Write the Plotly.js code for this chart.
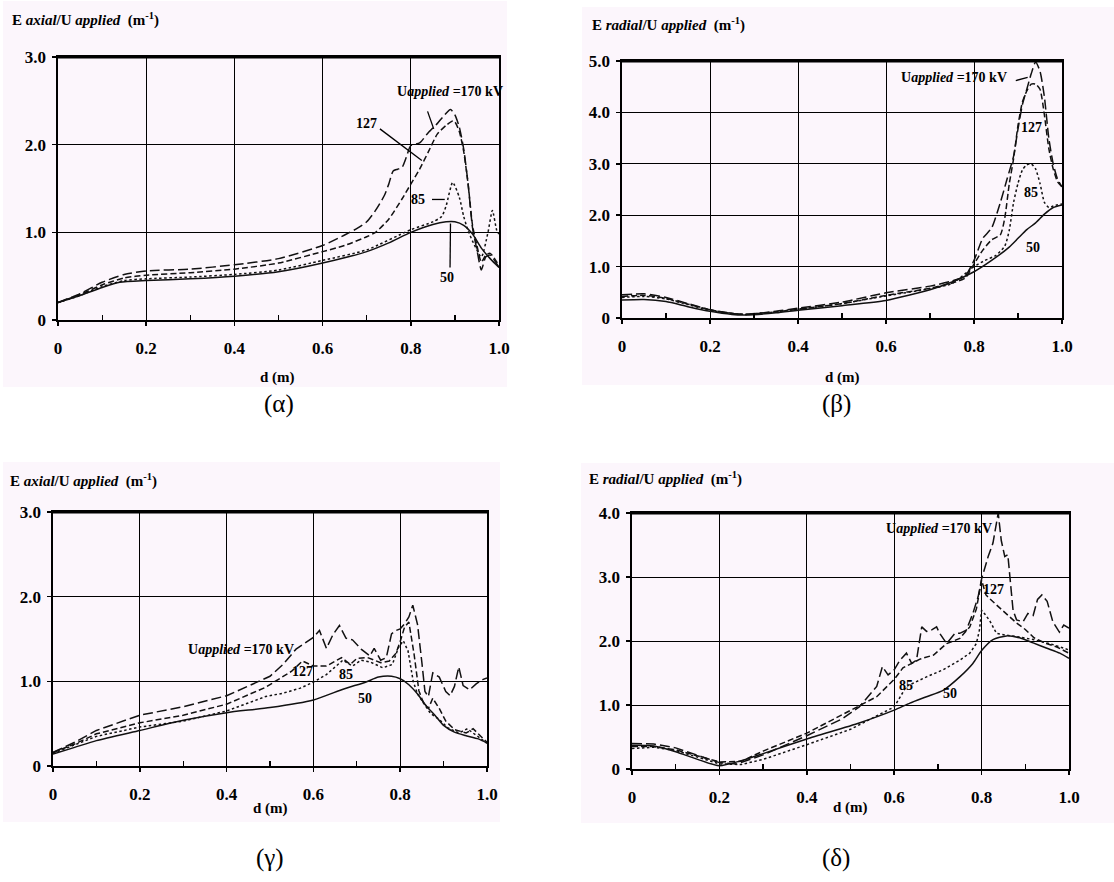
<!DOCTYPE html>
<html><head><meta charset="utf-8">
<script src="https://cdn.plot.ly/plotly-3.0.1.min.js"></script>
<style>html,body{margin:0;padding:0;background:#fff;} #chart{width:1114px;height:882px;}</style>
</head><body><div id="chart"></div>
<script>
// ---------- tick labels ----------
const xTickVals = [0, 0.2, 0.4, 0.6, 0.8, 1.0];
const xTickText = ['0', '0.2', '0.4', '0.6', '0.8', '1.0'];
const xMinorVals = [0.1, 0.3, 0.5, 0.7, 0.9];
const yTickVals3 = [0, 1, 2, 3];
const yTickText3 = ['0', '1.0', '2.0', '3.0'];
const yTickVals4 = [0, 1, 2, 3, 4];
const yTickText4 = ['0', '1.0', '2.0', '3.0', '4.0'];
const yTickVals5 = [0, 1, 2, 3, 4, 5];
const yTickText5 = ['0', '1.0', '2.0', '3.0', '4.0', '5.0'];
const seriesNames = ['170 kV', '127 kV', '85 kV', '50 kV'];

// ---------- (α) axial field ----------
const aD170 = [0, 0.05, 0.1, 0.15, 0.2, 0.3, 0.4, 0.5, 0.6, 0.65, 0.68, 0.7, 0.72, 0.74, 0.75, 0.76, 0.77, 0.78, 0.79, 0.8, 0.82, 0.84, 0.86, 0.875, 0.89, 0.9, 0.91, 0.92, 0.93, 0.94, 0.95, 0.96, 0.97, 0.98, 1.0];
const aV170 = [0.20, 0.30, 0.43, 0.52, 0.56, 0.58, 0.63, 0.70, 0.85, 0.97, 1.05, 1.12, 1.25, 1.42, 1.55, 1.70, 1.72, 1.74, 1.86, 1.99, 2.02, 2.14, 2.24, 2.33, 2.40, 2.34, 2.20, 1.95, 1.55, 1.05, 0.80, 0.57, 0.72, 0.74, 0.60];
const aD127 = [0, 0.05, 0.1, 0.15, 0.2, 0.3, 0.4, 0.5, 0.6, 0.65, 0.7, 0.72, 0.75, 0.78, 0.8, 0.82, 0.84, 0.86, 0.88, 0.895, 0.9, 0.91, 0.92, 0.93, 0.94, 0.95, 0.96, 0.97, 0.98, 1.0];
const aV127 = [0.20, 0.29, 0.40, 0.48, 0.51, 0.54, 0.58, 0.65, 0.78, 0.85, 0.95, 1.0, 1.15, 1.38, 1.55, 1.72, 1.92, 2.12, 2.22, 2.27, 2.26, 2.15, 1.92, 1.55, 1.08, 0.85, 0.66, 0.74, 0.76, 0.62];
const aD85 = [0, 0.05, 0.1, 0.15, 0.2, 0.3, 0.4, 0.5, 0.6, 0.7, 0.8, 0.85, 0.87, 0.88, 0.895, 0.91, 0.92, 0.93, 0.94, 0.96, 0.975, 0.985, 0.995, 1.0];
const aV85 = [0.20, 0.28, 0.38, 0.45, 0.47, 0.49, 0.52, 0.57, 0.68, 0.80, 1.03, 1.12, 1.18, 1.30, 1.57, 1.40, 1.18, 1.02, 0.90, 0.72, 1.00, 1.25, 1.02, 0.98];
const aD50 = [0, 0.05, 0.1, 0.14, 0.2, 0.3, 0.4, 0.5, 0.6, 0.7, 0.75, 0.8, 0.85, 0.88, 0.9, 0.92, 0.94, 0.96, 0.98, 1.0];
const aV50 = [0.20, 0.28, 0.37, 0.43, 0.45, 0.47, 0.50, 0.55, 0.65, 0.78, 0.88, 1.0, 1.09, 1.12, 1.12, 1.08, 0.98, 0.82, 0.70, 0.60];

// ---------- (β) radial field ----------
const bD170 = [0, 0.05, 0.1, 0.15, 0.2, 0.25, 0.28, 0.35, 0.4, 0.5, 0.6, 0.7, 0.75, 0.78, 0.8, 0.82, 0.84, 0.86, 0.875, 0.89, 0.9, 0.91, 0.92, 0.93, 0.94, 0.95, 0.96, 0.97, 0.98, 0.99, 1.0];
const bV170 = [0.45, 0.47, 0.40, 0.28, 0.16, 0.09, 0.07, 0.13, 0.19, 0.31, 0.49, 0.62, 0.72, 0.82, 1.12, 1.55, 1.75, 2.25, 2.70, 3.15, 3.68, 4.15, 4.45, 4.75, 4.98, 4.80, 4.30, 3.50, 3.00, 2.70, 2.55];
const bD127 = [0, 0.05, 0.1, 0.15, 0.2, 0.25, 0.28, 0.35, 0.4, 0.5, 0.6, 0.7, 0.75, 0.78, 0.8, 0.82, 0.84, 0.86, 0.87, 0.88, 0.89, 0.9, 0.91, 0.92, 0.93, 0.94, 0.95, 0.96, 0.97, 0.98, 0.99, 1.0];
const bV127 = [0.42, 0.44, 0.38, 0.27, 0.16, 0.09, 0.07, 0.12, 0.17, 0.28, 0.44, 0.58, 0.68, 0.78, 1.05, 1.32, 1.52, 1.62, 1.95, 2.60, 3.10, 3.75, 4.20, 4.42, 4.55, 4.55, 4.45, 3.95, 3.30, 2.90, 2.65, 2.55];
const bD85 = [0, 0.05, 0.1, 0.15, 0.2, 0.25, 0.28, 0.35, 0.4, 0.5, 0.6, 0.7, 0.75, 0.8, 0.825, 0.85, 0.87, 0.88, 0.89, 0.9, 0.91, 0.92, 0.93, 0.94, 0.95, 0.96, 0.97, 0.98, 1.0];
const bV85 = [0.40, 0.42, 0.37, 0.26, 0.15, 0.09, 0.07, 0.12, 0.17, 0.28, 0.43, 0.57, 0.67, 1.0, 1.12, 1.22, 1.40, 1.70, 2.25, 2.62, 2.88, 2.98, 3.0, 2.90, 2.62, 2.25, 2.15, 2.18, 2.22];
const bD50 = [0, 0.05, 0.1, 0.15, 0.2, 0.25, 0.28, 0.35, 0.4, 0.5, 0.6, 0.7, 0.75, 0.8, 0.84, 0.88, 0.9, 0.92, 0.94, 0.96, 0.98, 1.0];
const bV50 = [0.35, 0.36, 0.32, 0.22, 0.13, 0.07, 0.06, 0.10, 0.15, 0.24, 0.34, 0.55, 0.70, 0.90, 1.12, 1.38, 1.55, 1.72, 1.85, 2.02, 2.15, 2.20];

// ---------- (γ) axial field ----------
const cD170 = [0, 0.05, 0.1, 0.2, 0.3, 0.4, 0.47, 0.5, 0.53, 0.56, 0.58, 0.6, 0.614, 0.63, 0.645, 0.66, 0.675, 0.69, 0.71, 0.73, 0.74, 0.755, 0.768, 0.78, 0.79, 0.8, 0.81, 0.82, 0.829, 0.84, 0.85, 0.857, 0.865, 0.875, 0.89, 0.905, 0.915, 0.925, 0.935, 0.945, 0.96, 0.975, 0.99, 1.0];
const cV170 = [0.16, 0.28, 0.42, 0.60, 0.70, 0.83, 0.99, 1.06, 1.20, 1.38, 1.45, 1.52, 1.60, 1.39, 1.55, 1.66, 1.51, 1.49, 1.38, 1.30, 1.39, 1.25, 1.28, 1.56, 1.60, 1.62, 1.68, 1.76, 1.90, 1.67, 1.22, 0.88, 0.82, 1.10, 1.05, 0.88, 0.83, 0.94, 1.17, 0.95, 0.90, 0.97, 1.02, 1.04];
const cD127 = [0, 0.05, 0.1, 0.2, 0.3, 0.4, 0.49, 0.55, 0.575, 0.6, 0.63, 0.665, 0.685, 0.7, 0.725, 0.755, 0.775, 0.79, 0.8, 0.81, 0.82, 0.832, 0.843, 0.854, 0.865, 0.875, 0.89, 0.905, 0.925, 0.952, 0.968, 0.983, 1.0];
const cV127 = [0.16, 0.26, 0.38, 0.51, 0.60, 0.73, 0.93, 1.12, 1.24, 1.18, 1.18, 1.28, 1.20, 1.27, 1.28, 1.22, 1.24, 1.33, 1.47, 1.64, 1.70, 1.32, 0.89, 0.74, 0.68, 0.80, 0.68, 0.53, 0.43, 0.39, 0.44, 0.36, 0.28];
const cD85 = [0, 0.05, 0.1, 0.2, 0.3, 0.4, 0.49, 0.53, 0.57, 0.6, 0.63, 0.668, 0.69, 0.71, 0.73, 0.76, 0.782, 0.796, 0.807, 0.818, 0.83, 0.84, 0.855, 0.87, 0.89, 0.91, 0.935, 0.955, 0.965, 0.98, 1.0];
const cV85 = [0.15, 0.25, 0.35, 0.46, 0.53, 0.65, 0.82, 0.86, 0.92, 0.99, 1.08, 1.25, 1.18, 1.25, 1.23, 1.16, 1.20, 1.40, 1.48, 1.36, 1.0, 0.85, 0.74, 0.62, 0.55, 0.45, 0.39, 0.44, 0.40, 0.34, 0.27];
const cD50 = [0, 0.05, 0.1, 0.2, 0.3, 0.4, 0.5, 0.6, 0.67, 0.72, 0.75, 0.78, 0.8, 0.82, 0.84, 0.86, 0.88, 0.9, 0.925, 0.95, 0.98, 1.0];
const cV50 = [0.14, 0.22, 0.30, 0.42, 0.54, 0.63, 0.69, 0.78, 0.91, 0.99, 1.05, 1.06, 1.03, 0.96, 0.85, 0.71, 0.60, 0.48, 0.40, 0.36, 0.32, 0.27];

// ---------- (δ) radial field ----------
const dD170 = [0, 0.05, 0.1, 0.15, 0.2, 0.24, 0.3, 0.4, 0.48, 0.52, 0.545, 0.56, 0.573, 0.586, 0.6, 0.613, 0.628, 0.64, 0.651, 0.663, 0.674, 0.685, 0.697, 0.704, 0.72, 0.739, 0.75, 0.765, 0.78, 0.792, 0.8, 0.815, 0.826, 0.834, 0.838, 0.845, 0.853, 0.86, 0.872, 0.88, 0.895, 0.906, 0.918, 0.928, 0.938, 0.95, 0.963, 0.978, 0.988, 1.0];
const dV170 = [0.40, 0.39, 0.33, 0.22, 0.10, 0.08, 0.22, 0.52, 0.78, 0.97, 1.18, 1.29, 1.60, 1.47, 1.55, 1.70, 1.81, 1.65, 1.70, 2.22, 2.15, 2.17, 2.22, 2.12, 1.96, 2.12, 2.12, 2.17, 2.43, 2.69, 2.97, 3.32, 3.53, 3.89, 4.0, 3.57, 3.32, 3.35, 2.48, 2.33, 2.30, 2.43, 2.40, 2.65, 2.72, 2.62, 2.30, 2.14, 2.25, 2.20];
const dD127 = [0, 0.05, 0.1, 0.15, 0.2, 0.25, 0.3, 0.4, 0.48, 0.56, 0.6, 0.62, 0.66, 0.69, 0.72, 0.75, 0.773, 0.788, 0.8, 0.81, 0.825, 0.845, 0.865, 0.88, 0.9, 0.92, 0.948, 0.971, 1.0];
const dV127 = [0.35, 0.35, 0.30, 0.20, 0.11, 0.12, 0.28, 0.56, 0.85, 1.13, 1.40, 1.58, 1.72, 1.78, 1.96, 2.04, 2.22, 2.50, 2.95, 2.72, 2.62, 2.50, 2.38, 2.28, 2.18, 2.05, 1.96, 1.91, 1.81];
const dD85 = [0, 0.05, 0.1, 0.15, 0.2, 0.25, 0.3, 0.4, 0.5, 0.6, 0.628, 0.674, 0.712, 0.75, 0.773, 0.788, 0.795, 0.8, 0.81, 0.82, 0.834, 0.857, 0.88, 0.92, 0.96, 1.0];
const dV85 = [0.32, 0.34, 0.29, 0.19, 0.08, 0.07, 0.15, 0.38, 0.62, 0.97, 1.29, 1.44, 1.55, 1.70, 1.81, 1.96, 2.17, 2.48, 2.40, 2.30, 2.12, 2.09, 2.07, 2.02, 1.95, 1.86];
const dD50 = [0, 0.05, 0.1, 0.15, 0.2, 0.25, 0.3, 0.4, 0.52, 0.6, 0.636, 0.674, 0.712, 0.75, 0.78, 0.8, 0.826, 0.857, 0.887, 0.918, 0.948, 0.979, 1.0];
const dV50 = [0.37, 0.36, 0.27, 0.15, 0.05, 0.13, 0.24, 0.47, 0.72, 0.92, 1.03, 1.13, 1.23, 1.44, 1.65, 1.85, 2.02, 2.08, 2.05, 1.97, 1.89, 1.81, 1.73];

// ---------- styling ----------
const FONT = 'Liberation Serif, Times New Roman, serif';
const PANEL_BG = '#fcf6fc';
const dashes = ['10px,4px', '6px,3px', '2.5px,2.5px', 'solid'];

const panels = [
  {xa: 'x',  ya: 'y',  data: [[aD170, aV170], [aD127, aV127], [aD85, aV85], [aD50, aV50]], noisy: [false, false, false, false]},
  {xa: 'x2', ya: 'y2', data: [[bD170, bV170], [bD127, bV127], [bD85, bV85], [bD50, bV50]], noisy: [false, false, false, false]},
  {xa: 'x3', ya: 'y3', data: [[cD170, cV170], [cD127, cV127], [cD85, cV85], [cD50, cV50]], noisy: [true, true, true, false]},
  {xa: 'x4', ya: 'y4', data: [[dD170, dV170], [dD127, dV127], [dD85, dV85], [dD50, dV50]], noisy: [true, true, true, false]}
];

const traces = [];
panels.forEach(p => {
  p.data.forEach((s, i) => {
    traces.push({
      x: s[0], y: s[1], xaxis: p.xa, yaxis: p.ya, type: 'scatter', mode: 'lines',
      name: seriesNames[i], showlegend: false, hoverinfo: 'skip',
      line: {color: '#111', width: 1.5, dash: dashes[i],
             shape: p.noisy[i] ? 'linear' : 'spline', smoothing: 0.6}
    });
  });
});

function xAxis(domain, anchor) {
  return {
    domain: domain, anchor: anchor, range: [0, 1],
    tickmode: 'array', tickvals: xTickVals, ticktext: xTickText,
    ticks: 'outside', ticklen: 4, tickwidth: 1.5, tickcolor: '#000',
    showline: true, linecolor: '#000', linewidth: 1.6, mirror: true,
    showgrid: true, gridcolor: '#000', gridwidth: 1, zeroline: false,
    tickfont: {family: FONT, size: 17, color: '#000', weight: 'bold'},
    ticklabelstandoff: 8,
    minor: {tickmode: 'array', tickvals: xMinorVals, ticks: 'inside', ticklen: 5, tickwidth: 1.2, tickcolor: '#000', showgrid: false},
    fixedrange: true
  };
}
function yAxis(domain, anchor, rng, tv, tt) {
  return {
    domain: domain, anchor: anchor, range: rng,
    tickmode: 'array', tickvals: tv, ticktext: tt,
    ticks: 'outside', ticklen: 4, tickwidth: 1.5, tickcolor: '#000',
    showline: true, linecolor: '#000', linewidth: 1.6, mirror: true,
    showgrid: true, gridcolor: '#000', gridwidth: 1, zeroline: false,
    tickfont: {family: FONT, size: 17, color: '#000', weight: 'bold'},
    ticklabelstandoff: 3,
    fixedrange: true
  };
}

const W = 1114, H = 882;
const px = v => v / W;
const py = v => 1 - v / H;

const shapes = [
  {type: 'rect', xref: 'paper', yref: 'paper', x0: px(3), x1: px(507), y0: py(387), y1: py(1), fillcolor: PANEL_BG, line: {width: 0}, layer: 'below'},
  {type: 'rect', xref: 'paper', yref: 'paper', x0: px(582), x1: 1, y0: py(385), y1: py(7), fillcolor: PANEL_BG, line: {width: 0}, layer: 'below'},
  {type: 'rect', xref: 'paper', yref: 'paper', x0: px(3), x1: px(500), y0: py(822), y1: py(462), fillcolor: PANEL_BG, line: {width: 0}, layer: 'below'},
  {type: 'rect', xref: 'paper', yref: 'paper', x0: px(581), x1: 1, y0: py(823), y1: py(463), fillcolor: PANEL_BG, line: {width: 0}, layer: 'below'}
];
['x', 'x2', 'x3', 'x4'].forEach((xa, i) => {
  const ya = ['y', 'y2', 'y3', 'y4'][i];
  shapes.push({type: 'line', xref: xa + ' domain', yref: ya + ' domain', x0: 0, x1: 1, y0: 1, y1: 1, line: {color: '#000', width: 3.2}});
});
function leader(xa, ya, x0, y0, x1, y1) {
  shapes.push({type: 'line', xref: xa, yref: ya, x0: x0, y0: y0, x1: x1, y1: y1, line: {color: '#000', width: 1.3}});
}
leader('x', 'y', 0.838, 2.38, 0.852, 2.18);
leader('x', 'y', 0.73, 2.18, 0.825, 1.82);
leader('x', 'y', 0.848, 1.375, 0.877, 1.375);
leader('x', 'y', 0.89, 1.10, 0.889, 0.60);
leader('x2', 'y2', 0.895, 4.62, 0.922, 4.68);

const annFont = {family: FONT, size: 14, color: '#000'};
function lab(xa, ya, x, y, text) {
  return {xref: xa, yref: ya, x: x, y: y, text: '<b>' + text + '</b>', showarrow: false, font: annFont, xanchor: 'center', yanchor: 'middle'};
}
function pap(x, y, text, size, anchor, bold) {
  return {xref: 'paper', yref: 'paper', x: px(x), y: py(y), text: bold ? '<b>' + text + '</b>' : text, showarrow: false,
          font: {family: FONT, size: size, color: '#000'}, xanchor: anchor, yanchor: 'middle'};
}
const ytitleA = 'E <i>axial</i>/U <i>applied</i>  (m<sup>-1</sup>)';
const ytitleR = 'E <i>radial</i>/U <i>applied</i>  (m<sup>-1</sup>)';
const annotations = [
  pap(10, 20, ytitleA, 15, 'left', true),
  pap(590, 24, ytitleR, 15, 'left', true),
  pap(8, 480, ytitleA, 15, 'left', true),
  pap(587, 478, ytitleR, 15, 'left', true),
  pap(277, 377, 'd (m)', 15, 'center', true),
  pap(842, 377, 'd (m)', 15, 'center', true),
  pap(270, 808, 'd (m)', 15, 'center', true),
  pap(850, 807, 'd (m)', 15, 'center', true),
  pap(279, 404, '(α)', 25, 'center', false),
  pap(836, 404, '(β)', 25, 'center', false),
  pap(270, 858, '(γ)', 25, 'center', false),
  pap(836, 858, '(δ)', 25, 'center', false),
  lab('x', 'y', 0.889, 2.61, 'U<i>applied</i> =170 kV'),
  lab('x', 'y', 0.70, 2.24, '127'),
  lab('x', 'y', 0.816, 1.37, '85'),
  lab('x', 'y', 0.882, 0.49, '50'),
  lab('x2', 'y2', 0.755, 4.68, 'U<i>applied</i> =170 kV'),
  lab('x2', 'y2', 0.93, 3.70, '127'),
  lab('x2', 'y2', 0.93, 2.45, '85'),
  lab('x2', 'y2', 0.935, 1.37, '50'),
  lab('x3', 'y3', 0.434, 1.38, 'U<i>applied</i> =170 kV'),
  lab('x3', 'y3', 0.574, 1.12, '127'),
  lab('x3', 'y3', 0.676, 1.08, '85'),
  lab('x3', 'y3', 0.718, 0.80, '50'),
  lab('x4', 'y4', 0.702, 3.76, 'U<i>applied</i> =170 kV'),
  lab('x4', 'y4', 0.828, 2.80, '127'),
  lab('x4', 'y4', 0.628, 1.31, '85'),
  lab('x4', 'y4', 0.727, 1.18, '50')
];

const layout = {
  width: W, height: H, margin: {l: 0, r: 0, t: 0, b: 0},
  paper_bgcolor: '#ffffff', plot_bgcolor: PANEL_BG, showlegend: false,
  font: {family: FONT, color: '#000'},
  xaxis:  xAxis([px(58), px(499)], 'y'),
  yaxis:  yAxis([1 - 320 / H, 1 - 57 / H], 'x', [0, 3], yTickVals3, yTickText3),
  xaxis2: xAxis([px(622), px(1062)], 'y2'),
  yaxis2: yAxis([1 - 318 / H, 1 - 61 / H], 'x2', [0, 5], yTickVals5, yTickText5),
  xaxis3: xAxis([px(53), px(487)], 'y3'),
  yaxis3: yAxis([1 - 766 / H, 1 - 512 / H], 'x3', [0, 3], yTickVals3, yTickText3),
  xaxis4: xAxis([px(632), px(1069)], 'y4'),
  yaxis4: yAxis([1 - 769 / H, 1 - 513 / H], 'x4', [0, 4], yTickVals4, yTickText4),
  shapes: shapes, annotations: annotations
};

Plotly.newPlot('chart', traces, layout, {displayModeBar: false, staticPlot: true});
</script></body></html>
